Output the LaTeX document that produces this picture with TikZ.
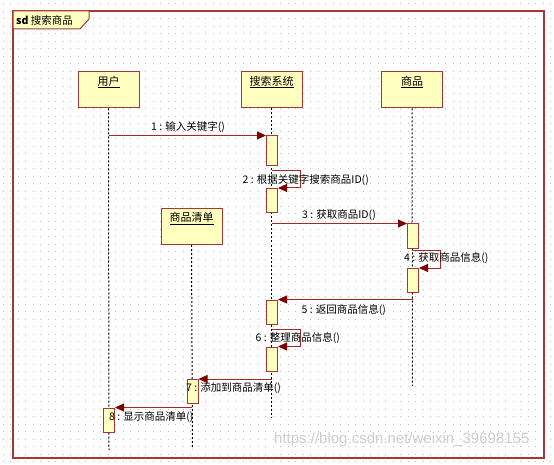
\documentclass[tikz,border=0pt]{standalone}
\usepackage{fontspec}
\setmainfont{Noto Sans CJK SC}
\newfontfamily\wmfont{Liberation Sans}
\usetikzlibrary{arrows.meta,calc}
\definecolor{framec}{RGB}{165,55,55}
\definecolor{boxfill}{RGB}{255,255,192}
\definecolor{msgc}{RGB}{165,40,40}
\definecolor{headc}{RGB}{128,0,0}
\definecolor{dotc}{RGB}{190,190,190}
\definecolor{wmc}{RGB}{205,205,205}
\tikzset{
  lifebox/.style={draw=framec, fill=boxfill, line width=1pt, minimum width=61pt, minimum height=36pt, inner sep=0pt},
  boxlbl/.style={inner sep=0pt, font=\fontsize{11pt}{13pt}\selectfont},
  bar/.style={draw=framec, fill=boxfill, line width=1pt, minimum width=11pt, inner sep=0pt, anchor=north west},
  lifeline/.style={draw=black, line width=1pt, dash pattern=on 2pt off 2pt},
  msgline/.style={draw=msgc, line width=1pt, -{Triangle[length=9pt,width=8pt,color=headc]}},
  msglbl/.style={inner sep=0pt, font=\fontsize{10.5pt}{12pt}\selectfont},
}
\begin{document}
\begin{tikzpicture}[x=1pt,y=-1pt]
\useasboundingbox (0,0) rectangle (554,465);
\fill[white] (0,0) rectangle (554,465);
% dotted grid
\foreach \r in {0,...,61}
  \draw[dotc, line width=1pt, dash pattern=on 1pt off 6.5pt] (2.5,4+\r*7.5) -- (554,4+\r*7.5);
% watermark
\node[anchor=west, inner sep=0pt, text=wmc, font=\wmfont\fontsize{15pt}{17pt}\selectfont] (wm) at (274,440) {https://blog.csdn.net/weixin\_39698155};
% frame
\draw[framec, line width=1.4pt] (13,11) rectangle (544,458);
\draw[framec, fill=boxfill, line width=1pt] (13,11) -- (89,11) -- (89,19) -- (80,29) -- (13,29) -- cycle;
\node[anchor=west, inner sep=0pt, font=\fontsize{10.5pt}{12pt}\selectfont] (title) at (16,20.5) {\textbf{sd} 搜索商品};
% lifeline heads
\node[lifebox] (user) at (108.5,90) {};
\node[boxlbl] (userl) at (108.5,82) {\underline{用户}};
\node[lifebox] (sys) at (271.5,90) {};
\node[boxlbl] (sysl) at (271.5,82) {\underline{搜索系统}};
\node[lifebox] (item) at (412,90) {};
\node[boxlbl] (iteml) at (412,82) {\underline{商品}};
\node[lifebox] (list) at (191.5,226.5) {};
\node[boxlbl] (listl) at (191.5,218.5) {\underline{商品清单}};
% lifeline ends
\coordinate (userend) at (109,450);
\coordinate (sysend) at (271.5,418);
\coordinate (itemend) at (412.5,386);
\coordinate (listend) at (192.5,449);
\draw[lifeline] (user.south) -- (userend);
\draw[lifeline] (sys.south) -- (sysend);
\draw[lifeline] (item.south) -- (itemend);
\draw[lifeline] (list.south) -- (listend);
% activation bars
\node[bar, minimum height=29.5pt] (a1) at (266,135.5) {};
\node[bar, minimum height=24pt] (a2) at (266,188) {};
\node[bar, minimum height=24.5pt] (a3) at (407,223.5) {};
\node[bar, minimum height=24pt] (a4) at (407,268) {};
\node[bar, minimum height=24pt] (a5) at (266,299.5) {};
\node[bar, minimum height=24pt] (a6) at (266,346.5) {};
\node[bar, minimum height=24pt] (a7) at (186.5,379) {};
\node[bar, minimum height=24.5pt] (a8) at (103,407.5) {};
% messages
\draw[msgline] (user.south |- a1.north west) -- (a1.north west);
\draw[msgline] ($(a1.south)+(0,5)$) -- ++(28,0) |- (a2.north east);
\draw[msgline] (a2.south |- a3.north west) -- (a3.north west);
\draw[msgline] ($(a3.south)+(0,1.5)$) -- ++(27.5,0) |- (a4.north east);
\draw[msgline] (a4.center |- a5.north east) -- (a5.north east);
\draw[msgline] ($(a5.south)+(0,5)$) -- ++(28,0) |- (a6.north east);
\draw[msgline] (a6.center |- a7.north east) -- (a7.north east);
\draw[msgline] (list.south |- a8.north east) -- (a8.north east);
% message labels
\node[msglbl] (m1) at (188,127) {1 : 输入关键字()};
\node[msglbl, anchor=west] (m2) at (242.5,180) {2 : 根据关键字搜索商品ID()};
\node[msglbl] (m3) at (339,215) {3 : 获取商品ID()};
\node[msglbl, anchor=west] (m4) at (404,258) {4 : 获取商品信息()};
\node[msglbl, anchor=west] (m5) at (301.5,310) {5 : 返回商品信息()};
\node[msglbl, anchor=west] (m6) at (255.5,338) {6 : 整理商品信息()};
\node[msglbl, anchor=west] (m7) at (186,388.5) {7 : 添加到商品清单()};
\node[msglbl, anchor=west] (m8) at (109,417.5) {8 : 显示商品清单()};
\end{tikzpicture}
\end{document}
